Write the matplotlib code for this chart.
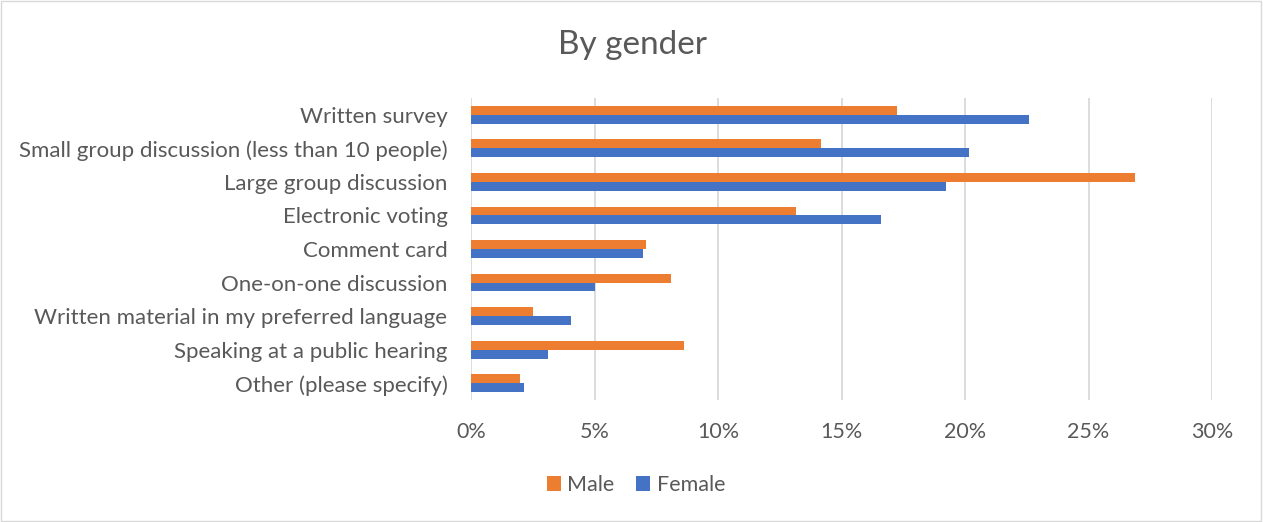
import matplotlib
matplotlib.use("Agg")
import matplotlib.pyplot as plt
from matplotlib.ticker import PercentFormatter, MultipleLocator
from matplotlib.patches import Rectangle

categories = [
    "Written survey",
    "Small group discussion (less than 10 people)",
    "Large group discussion",
    "Electronic voting",
    "Comment card",
    "One-on-one discussion",
    "Written material in my preferred language",
    "Speaking at a public hearing",
    "Other (please specify)",
]
male = [17.26, 14.19, 26.9, 13.17, 7.08, 8.11, 2.5, 8.61, 2.0]
female = [22.59, 20.18, 19.22, 16.58, 6.96, 5.03, 4.05, 3.11, 2.14]

ORANGE = "#ED7D31"
BLUE = "#4472C4"
TEXT = "#595959"
GRID = "#D9D9D9"
FONT = "Lato"

plt.rcParams["font.family"] = [FONT, "DejaVu Sans"]

fig = plt.figure(figsize=(12.63, 5.22), dpi=100)
ax = fig.add_axes([471 / 1263, 1 - 400 / 522, (1212 - 471) / 1263, 302 / 522])

pos = list(range(len(categories)))
h = 0.265
ax.barh([p - h / 2 for p in pos], male, height=h, color=ORANGE, label="Male", zorder=3)
ax.barh([p + h / 2 for p in pos], female, height=h, color=BLUE, label="Female", zorder=3)

ax.set_ylim(len(categories) - 0.5, -0.5)
ax.set_xlim(0, 30)
ax.xaxis.set_major_locator(MultipleLocator(5))
ax.xaxis.set_major_formatter(PercentFormatter(decimals=0))
ax.set_yticks(pos)
ax.set_yticklabels(categories)

ax.grid(axis="x", color=GRID, linewidth=1.3, zorder=0)
for s in ax.spines.values():
    s.set_visible(False)
ax.tick_params(axis="both", length=0, colors=TEXT)
ax.tick_params(axis="y", pad=17, labelsize=16)
ax.tick_params(axis="x", pad=16, labelsize=15.5)

fig.text(632 / 1263, 1 - 45 / 522, "By gender", ha="center", va="center",
         fontsize=24, color=TEXT)

leg = fig.legend(loc="center", bbox_to_anchor=(636 / 1263, 1 - 485 / 522), ncol=2,
                 frameon=False, fontsize=15.5, handlelength=0.65, handleheight=0.65,
                 handletextpad=0.3, columnspacing=1.0)
for t in leg.get_texts():
    t.set_color(TEXT)

fig.patches.append(Rectangle((0.0005, 0.001), 0.998, 0.997, transform=fig.transFigure,
                             fill=False, edgecolor=GRID, linewidth=1))

fig.savefig("out.png", dpi=100, facecolor="white")
